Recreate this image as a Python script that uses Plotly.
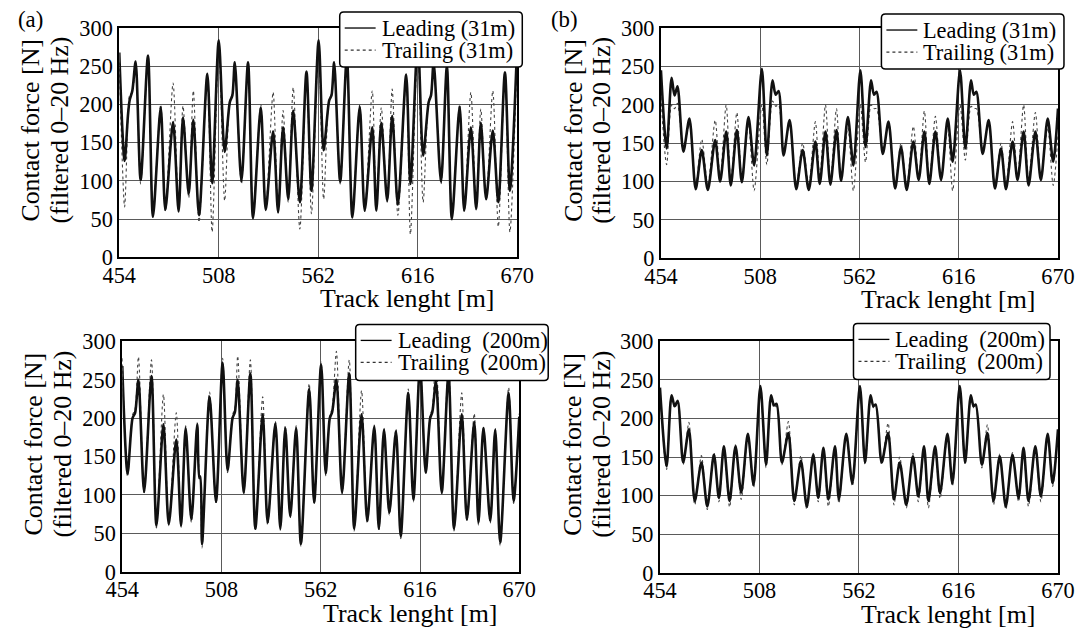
import plotly.graph_objects as go

W, H = 1085, 628
FONT = "Liberation Serif"

# ---------------- data ----------------
# (a) top: 31 m
x_a31 = [
    454.0, 456.9, 458.7, 459.6, 461.1, 462.9, 465.6, 469.6, 472.3, 476.5,
    479.0, 483.2, 486.2, 488.6, 491.7, 494.2, 497.3, 501.8, 504.4,
    508.0, 511.2, 514.0, 515.4, 516.7, 520.3, 523.9, 526.6, 530.8, 533.5,
    537.5, 540.2, 542.9, 545.7, 548.4, 552.0, 555.6, 558.3,
    562.2, 564.9, 567.9, 569.2, 570.6, 573.9, 577.5, 580.5, 584.5, 587.2,
    591.3, 593.5, 596.2, 599.4, 602.1, 605.2, 609.7, 612.0,
    616.0, 618.9, 621.9, 623.2, 624.6, 628.6, 631.8, 634.5, 638.7, 641.2,
    644.8, 647.7, 650.2, 653.1, 656.7, 659.7, 663.3, 666.0, 670.0,
]
lead_a31 = [
    268, 126, 185, 205, 218, 256, 101, 264, 53, 196,
    62, 177, 60, 183, 83, 180, 55, 240, 97,
    284, 138, 203, 212, 255, 100, 255, 51, 196, 62,
    165, 59, 170, 76, 192, 72, 243, 87,
    284, 140, 205, 212, 255, 99, 262, 52, 197, 61,
    170, 61, 176, 74, 185, 69, 239, 96,
    284, 133, 203, 212, 255, 99, 250, 50, 197, 61,
    170, 63, 176, 76, 166, 72, 242, 87, 282,
]
trail_a31 = [
    255, 66, 182, 212, 216, 250, 96, 262, 58, 200,
    60, 228, 62, 198, 78, 218, 46, 236, 33,
    280, 74, 205, 214, 250, 96, 252, 56, 200, 64,
    216, 58, 192, 72, 222, 37, 240, 57,
    280, 76, 207, 214, 252, 96, 258, 55, 200, 60,
    218, 62, 196, 72, 220, 55, 236, 30,
    280, 72, 205, 214, 252, 96, 248, 54, 200, 60,
    216, 64, 194, 75, 218, 40, 240, 33, 275,
]

# (a) bottom: 200 m
x_a200 = [
    454.0, 456.9, 459.6, 461.0, 462.8, 465.9, 469.9, 472.6, 476.4, 479.3,
    483.4, 486.0, 488.5, 491.6, 494.8, 495.9, 496.5, 497.4, 501.5, 505.0,
    508.6, 511.3, 514.0, 515.3, 516.8, 520.1, 523.7, 526.4, 530.4, 533.1,
    537.3, 540.0, 542.7, 545.4, 548.6, 551.2, 555.7, 558.4,
    562.2, 564.7, 566.9, 568.2, 570.5, 573.6, 577.5, 580.2, 584.2, 587.3,
    591.1, 593.6, 596.4, 599.3, 602.9, 605.5, 609.6, 612.4,
    616.0, 619.1, 621.5, 622.7, 624.7, 627.8, 631.5, 634.5, 638.7, 641.5,
    645.5, 647.8, 650.5, 654.2, 656.9, 659.6, 664.2, 666.9, 670.0,
]
lead_a200 = [
    268, 128, 200, 207, 250, 104, 255, 60, 192, 62,
    172, 60, 187, 68, 192, 122, 124, 36, 228, 91,
    272, 132, 200, 208, 250, 103, 258, 56, 205, 64,
    193, 56, 187, 72, 187, 36, 238, 90,
    270, 128, 200, 208, 250, 103, 258, 56, 205, 66,
    189, 56, 185, 77, 183, 46, 233, 94,
    268, 129, 200, 208, 248, 103, 258, 56, 205, 68,
    195, 64, 187, 66, 185, 38, 233, 92, 202,
]
trail_a200 = [
    278, 124, 204, 212, 280, 101, 276, 57, 231, 60,
    207, 58, 190, 64, 194, 126, 120, 31, 234, 88,
    278, 129, 204, 213, 281, 101, 276, 53, 228, 61,
    196, 54, 190, 70, 190, 33, 245, 88,
    273, 125, 203, 213, 287, 101, 276, 53, 236, 63,
    191, 53, 187, 74, 186, 43, 238, 91,
    276, 127, 203, 213, 283, 101, 272, 53, 233, 65,
    206, 61, 189, 63, 187, 34, 240, 89, 206,
]

# (b) top: 31 m
x_b31 = [
    454.0, 457.1, 459.8, 461.4, 463.0, 466.2, 469.5, 472.9, 476.2, 479.5,
    483.5, 486.2, 489.5, 492.0, 495.3, 498.0, 501.6, 504.7,
    508.9, 511.6, 514.7, 516.4, 518.0, 520.7, 524.0, 527.6, 531.1, 534.4,
    538.0, 540.4, 543.5, 546.2, 549.5, 552.0, 555.7, 558.7,
    562.5, 565.3, 568.3, 569.9, 571.3, 574.7, 577.8, 581.4, 584.6, 587.7,
    591.3, 594.2, 597.3, 600.0, 603.3, 606.4, 610.0, 612.7,
    616.7, 619.6, 622.7, 624.2, 625.6, 629.0, 632.3, 635.7, 639.0, 641.7,
    645.3, 648.0, 651.3, 654.0, 657.7, 660.7, 664.4, 667.4, 670.0,
]
lead_b31 = [
    245, 143, 235, 212, 224, 139, 182, 90, 141, 89,
    154, 100, 165, 95, 167, 99, 184, 121,
    247, 134, 232, 213, 218, 134, 180, 90, 141, 89,
    152, 97, 165, 96, 167, 101, 184, 121,
    245, 145, 232, 213, 217, 136, 178, 91, 145, 89,
    152, 102, 165, 97, 165, 102, 182, 126,
    245, 143, 232, 213, 217, 136, 180, 91, 143, 90,
    152, 102, 165, 95, 165, 102, 182, 126, 195,
]
trail_b31 = [
    210, 122, 200, 195, 202, 140, 175, 95, 155, 95,
    180, 105, 200, 100, 190, 105, 175, 88,
    200, 122, 205, 198, 200, 140, 175, 95, 150, 95,
    178, 105, 200, 100, 195, 105, 170, 88,
    200, 125, 200, 195, 195, 140, 175, 95, 150, 95,
    172, 105, 192, 100, 185, 105, 170, 88,
    200, 128, 198, 195, 195, 140, 175, 95, 150, 95,
    178, 105, 200, 100, 190, 105, 170, 95, 160,
]

# (b) bottom: 200 m
x_b200 = [
    454.0, 457.6, 460.3, 462.0, 463.6, 466.6, 469.7, 472.9, 476.5, 479.7,
    483.3, 486.0, 488.7, 491.8, 495.0, 498.1, 501.7, 504.8,
    508.5, 511.6, 514.3, 515.9, 517.3, 520.2, 523.7, 526.9, 530.5, 533.7,
    537.2, 539.9, 542.7, 545.4, 549.0, 551.1, 555.1, 558.4,
    562.5, 565.3, 568.3, 569.8, 571.1, 574.3, 577.8, 581.0, 584.1, 587.7,
    591.3, 594.2, 597.3, 599.7, 603.3, 606.0, 610.0, 612.7,
    616.7, 619.6, 622.7, 624.2, 625.4, 628.7, 631.7, 635.0, 638.4, 641.7,
    645.3, 648.6, 651.3, 654.0, 657.7, 660.7, 664.4, 667.1, 670.0,
]
lead_b200 = [
    240, 138, 230, 216, 223, 143, 186, 93, 143, 86,
    153, 97, 164, 93, 164, 104, 180, 114,
    242, 140, 230, 217, 219, 143, 181, 93, 145, 86,
    153, 97, 162, 95, 164, 95, 180, 116,
    242, 143, 230, 216, 218, 143, 181, 95, 143, 88,
    151, 99, 164, 93, 164, 103, 180, 116,
    242, 143, 230, 216, 218, 140, 181, 93, 151, 86,
    153, 97, 162, 93, 164, 99, 180, 116, 186,
]
trail_b200 = [
    236, 134, 226, 214, 220, 140, 195, 88, 152, 82,
    156, 92, 160, 85, 166, 95, 178, 110,
    238, 136, 226, 214, 216, 140, 196, 88, 152, 82,
    155, 92, 160, 86, 162, 90, 178, 112,
    238, 140, 226, 214, 216, 140, 194, 88, 150, 84,
    155, 92, 160, 84, 162, 96, 178, 112,
    238, 140, 226, 214, 216, 136, 192, 88, 154, 82,
    156, 92, 158, 86, 162, 92, 178, 112, 184,
]

x_ticks = [454, 508, 562, 616, 670]
y_ticks = [0, 50, 100, 150, 200, 250, 300]
x_range = [454, 670]
y_range = [0, 300]

x_title = "Track lenght [m]"
y_title_1 = "Contact force [N]"
y_title_2 = "(filtered 0\u201320 Hz)"

# layout positions in target-picture pixels
panels = [
    dict(x=x_a31, lead=lead_a31, trail=trail_a31,
         labels=("Leading (31m)", "Trailing (31m)"),
         box=(118, 517, 29, 258), leg=(339, 522, 13, 68), tag="(a)"),
    dict(x=x_b31, lead=lead_b31, trail=trail_b31,
         labels=("Leading (31m)", "Trailing (31m)"),
         box=(661, 1059, 29, 259), leg=(882, 1065, 15, 70), tag="(b)"),
    dict(x=x_a200, lead=lead_a200, trail=trail_a200,
         labels=("Leading\u00a0 (200m)", "Trailing\u00a0 (200m)"),
         box=(121, 519, 342, 572), leg=(355, 548, 325, 381), tag=None),
    dict(x=x_b200, lead=lead_b200, trail=trail_b200,
         labels=("Leading\u00a0 (200m)", "Trailing\u00a0 (200m)"),
         box=(660, 1059, 342, 573), leg=(854, 1051, 324, 380), tag=None),
]

# the photographed page is shown slightly shrunk with a thin white frame;
# map target-picture pixels back to page pixels
OX, SX = 15.5, 0.971
OY, SY = 13.0, 0.959
FS = 1.0 / ((SX + SY) / 2)


def px(xp):
    return ((xp - OX) / SX) / W


def py(yp):
    return 1 - ((yp - OY) / SY) / H


fig = go.Figure()
shapes = []
annotations = []

for i, p in enumerate(panels):
    n = i + 1
    xa = "x" if n == 1 else f"x{n}"
    ya = "y" if n == 1 else f"y{n}"
    fig.add_trace(go.Scatter(
        x=p["x"], y=p["trail"], xaxis=xa, yaxis=ya, mode="lines",
        line=dict(color="#444444", width=1.1, dash="dot", shape="spline", smoothing=0.8),
        name=p["labels"][1], showlegend=False, hoverinfo="skip"))
    fig.add_trace(go.Scatter(
        x=p["x"], y=p["lead"], xaxis=xa, yaxis=ya, mode="lines",
        line=dict(color="#111111", width=2.6, shape="spline", smoothing=0.8),
        name=p["labels"][0], showlegend=False, hoverinfo="skip"))

    l, r, t, b = p["box"]
    axis_common = dict(showline=True, linecolor="black", linewidth=2, mirror=True,
                       showgrid=True, gridcolor="#5a5a5a", gridwidth=1,
                       zeroline=False, ticks="",
                       tickfont=dict(family=FONT, size=round(21.5 * FS, 1), color="black"))
    xkey = "xaxis" if n == 1 else f"xaxis{n}"
    ykey = "yaxis" if n == 1 else f"yaxis{n}"
    fig.update_layout({
        xkey: dict(domain=[px(l), px(r)], range=x_range, tickvals=x_ticks,
                   anchor=ya, ticklabelstandoff=-3, **axis_common),
        ykey: dict(domain=[py(b), py(t)], range=y_range, tickvals=y_ticks,
                   anchor=xa, **axis_common),
    })

    # axis titles
    annotations.append(dict(text=x_title, xref="paper", yref="paper",
                            x=px(l + 0.725 * (r - l)), y=py(b + 41.5),
                            xanchor="center", yanchor="middle", showarrow=False,
                            borderpad=0,
                            font=dict(family=FONT, size=round(25 * FS, 1), color="black")))
    yc = (t + b) / 2 - 13
    annotations.append(dict(text=y_title_1, xref="paper", yref="paper",
                            x=px(l - 88.5), y=py(yc), textangle=-90,
                            xanchor="center", yanchor="middle", showarrow=False,
                            borderpad=0,
                            font=dict(family=FONT, size=round(25 * FS, 1), color="black")))
    annotations.append(dict(text=y_title_2, xref="paper", yref="paper",
                            x=px(l - 59.5), y=py(yc), textangle=-90,
                            xanchor="center", yanchor="middle", showarrow=False,
                            borderpad=0,
                            font=dict(family=FONT, size=round(25 * FS, 1), color="black")))

    # legend box (rounded)
    x0, x1, y0, y1 = p["leg"]
    rr = 4
    path = (f"M {px(x0 + rr)},{py(y0)} L {px(x1 - rr)},{py(y0)} "
            f"Q {px(x1)},{py(y0)} {px(x1)},{py(y0 + rr)} "
            f"L {px(x1)},{py(y1 - rr)} Q {px(x1)},{py(y1)} {px(x1 - rr)},{py(y1)} "
            f"L {px(x0 + rr)},{py(y1)} Q {px(x0)},{py(y1)} {px(x0)},{py(y1 - rr)} "
            f"L {px(x0)},{py(y0 + rr)} Q {px(x0)},{py(y0)} {px(x0 + rr)},{py(y0)} Z")
    shapes.append(dict(type="path", path=path, xref="paper", yref="paper",
                       fillcolor="white", line=dict(color="black", width=1.5),
                       layer="above"))
    row1 = y0 + 16
    row2 = y0 + 38
    shapes.append(dict(type="line", xref="paper", yref="paper",
                       x0=px(x0 + 5), x1=px(x0 + 36), y0=py(row1), y1=py(row1),
                       line=dict(color="black", width=1.3), layer="above"))
    shapes.append(dict(type="line", xref="paper", yref="paper",
                       x0=px(x0 + 5), x1=px(x0 + 36), y0=py(row2), y1=py(row2),
                       line=dict(color="#333333", width=1.2, dash="dot"), layer="above"))
    for lab, ry in zip(p["labels"], (row1, row2)):
        annotations.append(dict(text=lab, xref="paper", yref="paper",
                                x=px(x0 + 41), y=py(ry), xanchor="left",
                                yanchor="middle", showarrow=False, borderpad=0,
                                font=dict(family=FONT, size=round(21.5 * FS, 1), color="black")))
    if p["tag"]:
        tag_x = max(px(l - 111), 0.0)
        annotations.append(dict(text=p["tag"], xref="paper", yref="paper",
                                x=tag_x, y=py(20), xanchor="left",
                                yanchor="middle", showarrow=False, borderpad=0,
                                font=dict(family=FONT, size=round(22 * FS, 1), color="black")))

fig.update_layout(
    width=W, height=H,
    margin=dict(l=0, r=0, t=0, b=0),
    paper_bgcolor="white", plot_bgcolor="white",
    showlegend=False,
    shapes=shapes, annotations=annotations,
    font=dict(family=FONT, color="black"),
)

fig.write_html(
    "out.html",
    config={"displayModeBar": False},
    post_script="document.body.style.margin='0';document.body.style.overflow='hidden';",
)
